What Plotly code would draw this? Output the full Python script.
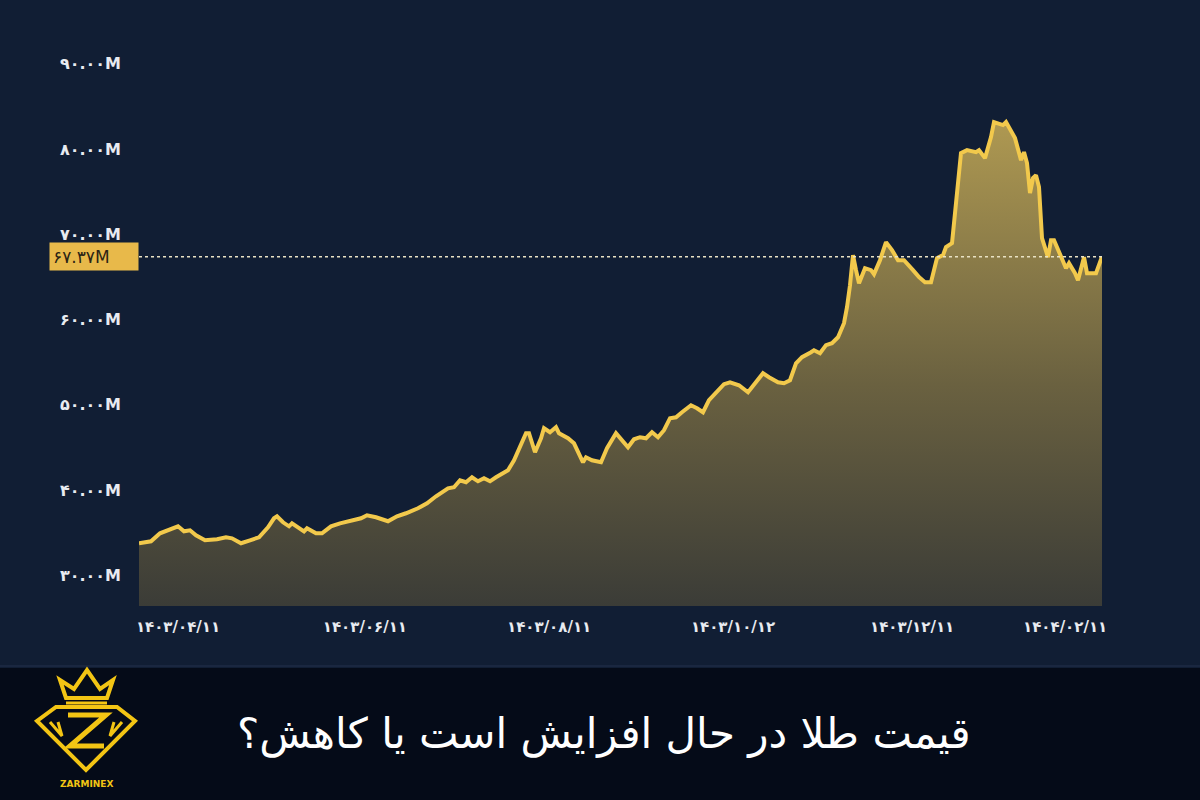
import plotly.graph_objects as go

# ---- data (day offset from 1403/04/11, price in million Toman) ----
days = [0, 4, 7, 10, 13, 15, 17, 19, 22, 26, 29, 31, 34, 37, 40, 43, 45, 46, 48, 50,
        51, 53, 55, 56, 59, 61, 64, 67, 70, 74, 76, 79, 83, 86, 89, 93, 96, 99, 103, 105,
        107, 109, 111, 113, 115, 117, 119, 123, 125, 127, 129, 130, 132, 134, 135, 137, 139, 140, 143, 145,
        146, 148, 149, 151, 154, 156, 159, 161, 163, 165, 167, 169, 171, 173, 175, 177, 179, 181, 184, 186,
        188, 190, 193, 195, 197, 200, 203, 206, 208, 210, 213, 215, 217, 219, 221, 224, 225, 227, 229, 231,
        233, 235, 236, 237, 238, 239, 240, 242, 244, 245, 247, 249, 251, 253, 255, 258, 260, 262, 264, 266,
        268, 269, 271, 273, 274, 276, 279, 280, 282, 284, 285, 286, 288, 289, 290, 292, 294, 295, 296, 297,
        298, 299, 300, 301, 303, 304, 305, 307, 309, 310, 312, 313, 315, 316, 319, 321]
prices = [33.76, 33.99, 34.93, 35.28, 35.75, 35.16, 35.28, 34.69, 34.11, 34.23, 34.46, 34.34, 33.76, 34.11, 34.46, 35.63, 36.69, 36.92, 36.22, 35.75,
          36.10, 35.63, 35.16, 35.52, 34.93, 34.93, 35.75, 36.10, 36.34, 36.69, 37.04, 36.81, 36.34, 36.92, 37.28, 37.86, 38.45, 39.27, 40.21, 40.33,
          41.15, 40.92, 41.50, 41.03, 41.38, 41.03, 41.50, 42.32, 43.50, 45.02, 46.67, 46.67, 44.44, 46.08, 47.25, 46.78, 47.37, 46.67, 46.08, 45.49,
          44.67, 43.26, 43.85, 43.50, 43.26, 44.91, 46.67, 45.85, 45.02, 45.96, 46.20, 46.08, 46.78, 46.20, 47.02, 48.43, 48.54, 49.13, 49.95, 49.60,
          49.13, 50.54, 51.71, 52.42, 52.65, 52.30, 51.48, 52.89, 53.71, 53.24, 52.65, 52.54, 52.89, 54.88, 55.59, 56.17, 56.41, 56.06, 57.00, 57.23,
          57.93, 59.58, 61.46, 64.04, 67.56, 65.80, 64.27, 66.03, 65.80, 65.33, 66.97, 69.08, 68.15, 66.97, 66.97, 65.80, 64.98, 64.39, 64.39, 67.21,
          67.56, 68.50, 68.97, 76.01, 79.53, 79.88, 79.65, 79.88, 78.94, 81.41, 83.17, 83.05, 82.82, 83.17, 82.58, 81.29, 78.71, 79.65, 78.36, 74.84,
          76.60, 76.95, 75.54, 69.55, 67.32, 69.32, 69.32, 67.79, 66.03, 66.62, 65.45, 64.62, 67.32, 65.45, 65.45, 67.37]

y_tick_vals = [30, 40, 50, 60, 70, 80, 90]
y_tick_text = ["۳۰.۰۰M", "۴۰.۰۰M", "۵۰.۰۰M", "۶۰.۰۰M", "۷۰.۰۰M", "۸۰.۰۰M", "۹۰.۰۰M"]
x_tick_vals = [13, 75.3, 136.7, 198, 257.7, 308.7]
x_tick_text = ["۱۴۰۳/۰۴/۱۱", "۱۴۰۳/۰۶/۱۱", "۱۴۰۳/۰۸/۱۱", "۱۴۰۳/۱۰/۱۲", "۱۴۰۳/۱۲/۱۱", "۱۴۰۴/۰۲/۱۱"]
title_text = "قیمت طلا در حال افزایش است یا کاهش؟"
brand = "ZARMINEX"

# ---- layout helpers (pixel -> paper) ----
W, H = 1200, 800
L, R, T, B = 139, 98, 40, 194
PW, PH = W - L - R, H - T - B


def px(x):
    return (x - L) / PW


def py(y):
    return (H - B - y) / PH


def path(points, close=True):
    s = "M " + " L ".join(f"{px(a):.5f},{py(b):.5f}" for a, b in points)
    return s + (" Z" if close else "")


def fa_digits(s):
    return s.translate(str.maketrans("0123456789", "۰۱۲۳۴۵۶۷۸۹"))


BG = "#111e34"
BANNER = "#050b18"
GOLD = "#f2c94c"
LOGO = "#f3c514"

fig = go.Figure()
fig.add_trace(go.Scatter(
    x=days, y=prices, mode="lines",
    line=dict(color=GOLD, width=4),
    fill="tozeroy",
    fillgradient=dict(type="vertical", start=26.4, stop=84,
                      colorscale=[[0, "#3b3c37"], [0.45, "#6a6140"], [1, "#b09a52"]]),
    hoverinfo="skip", showlegend=False,
))

shapes = []
# bottom banner
shapes.append(dict(type="rect", xref="paper", yref="paper",
                   x0=px(0), x1=px(W), y0=py(H), y1=py(668),
                   fillcolor=BANNER, line=dict(width=0), layer="below"))
shapes.append(dict(type="line", xref="paper", yref="paper",
                   x0=px(0), x1=px(W), y0=py(666), y1=py(666),
                   line=dict(color="#1a2740", width=2), layer="below"))
# current price dotted line
shapes.append(dict(type="line", xref="x", yref="y",
                   x0=days[0], x1=days[-1], y0=prices[-1], y1=prices[-1],
                   line=dict(color="#e9e2c4", width=1.5, dash="dot")))
# logo: crown
shapes.append(dict(type="path", xref="paper", yref="paper",
                   path=path([(66, 698), (60, 680), (74, 689), (87, 670), (100, 689), (113, 680), (107, 698)]),
                   line=dict(color=LOGO, width=4)))
shapes.append(dict(type="line", xref="paper", yref="paper",
                   x0=px(66), x1=px(107), y0=py(703), y1=py(703),
                   line=dict(color=LOGO, width=3)))
# logo: diamond
shapes.append(dict(type="path", xref="paper", yref="paper",
                   path=path([(56, 707), (117, 707), (135, 721), (86, 770), (37, 721)]),
                   line=dict(color=LOGO, width=4)))
# logo: Z
shapes.append(dict(type="path", xref="paper", yref="paper",
                   path=path([(68, 715), (106, 715), (70, 746), (104, 746)], close=False),
                   line=dict(color=LOGO, width=5)))
shapes.append(dict(type="path", xref="paper", yref="paper",
                   path=path([(50, 722), (62, 736), (58, 722)], close=False),
                   line=dict(color=LOGO, width=3)))
shapes.append(dict(type="path", xref="paper", yref="paper",
                   path=path([(122, 722), (110, 736), (114, 722)], close=False),
                   line=dict(color=LOGO, width=3)))

annotations = [
    dict(xref="paper", yref="y", x=0, y=prices[-1], xanchor="right", yanchor="middle",
         text=fa_digits(f"{prices[-1]:.2f}M"), showarrow=False, align="left",
         width=82, height=21, borderpad=3, bgcolor="#e8b94a",
         font=dict(family="DejaVu Sans", size=17, color="#2b2415")),
    dict(xref="paper", yref="paper", x=px(604), y=py(733), xanchor="center", yanchor="middle",
         text=title_text, showarrow=False,
         font=dict(family="DejaVu Sans", size=42, color="#ffffff")),
    dict(xref="paper", yref="paper", x=px(86), y=py(784), xanchor="center", yanchor="middle",
         text=f"<b>{brand}</b>", showarrow=False,
         font=dict(family="DejaVu Sans", size=9, color=LOGO)),
]

fig.update_layout(
    width=W, height=H,
    margin=dict(l=L, r=R, t=T, b=B),
    paper_bgcolor=BG, plot_bgcolor=BG,
    shapes=shapes, annotations=annotations,
    xaxis=dict(range=[days[0], days[-1]], showgrid=False, zeroline=False, showline=False,
               tickvals=x_tick_vals, ticktext=x_tick_text, ticks="",
               tickfont=dict(family="DejaVu Sans", size=15, color="#e8ebf0", weight="bold"),
               ticklabelstandoff=10),
    yaxis=dict(range=[26.4, 92.8], showgrid=False, zeroline=False, showline=False,
               tickvals=y_tick_vals, ticktext=y_tick_text, ticks="",
               tickfont=dict(family="DejaVu Sans", size=16, color="#e8ebf0", weight="bold"),
               ticklabelstandoff=17),
)

fig.write_html("out.html", config={"displayModeBar": False},
               post_script="document.body.style.margin='0';document.body.style.overflow='hidden';")
